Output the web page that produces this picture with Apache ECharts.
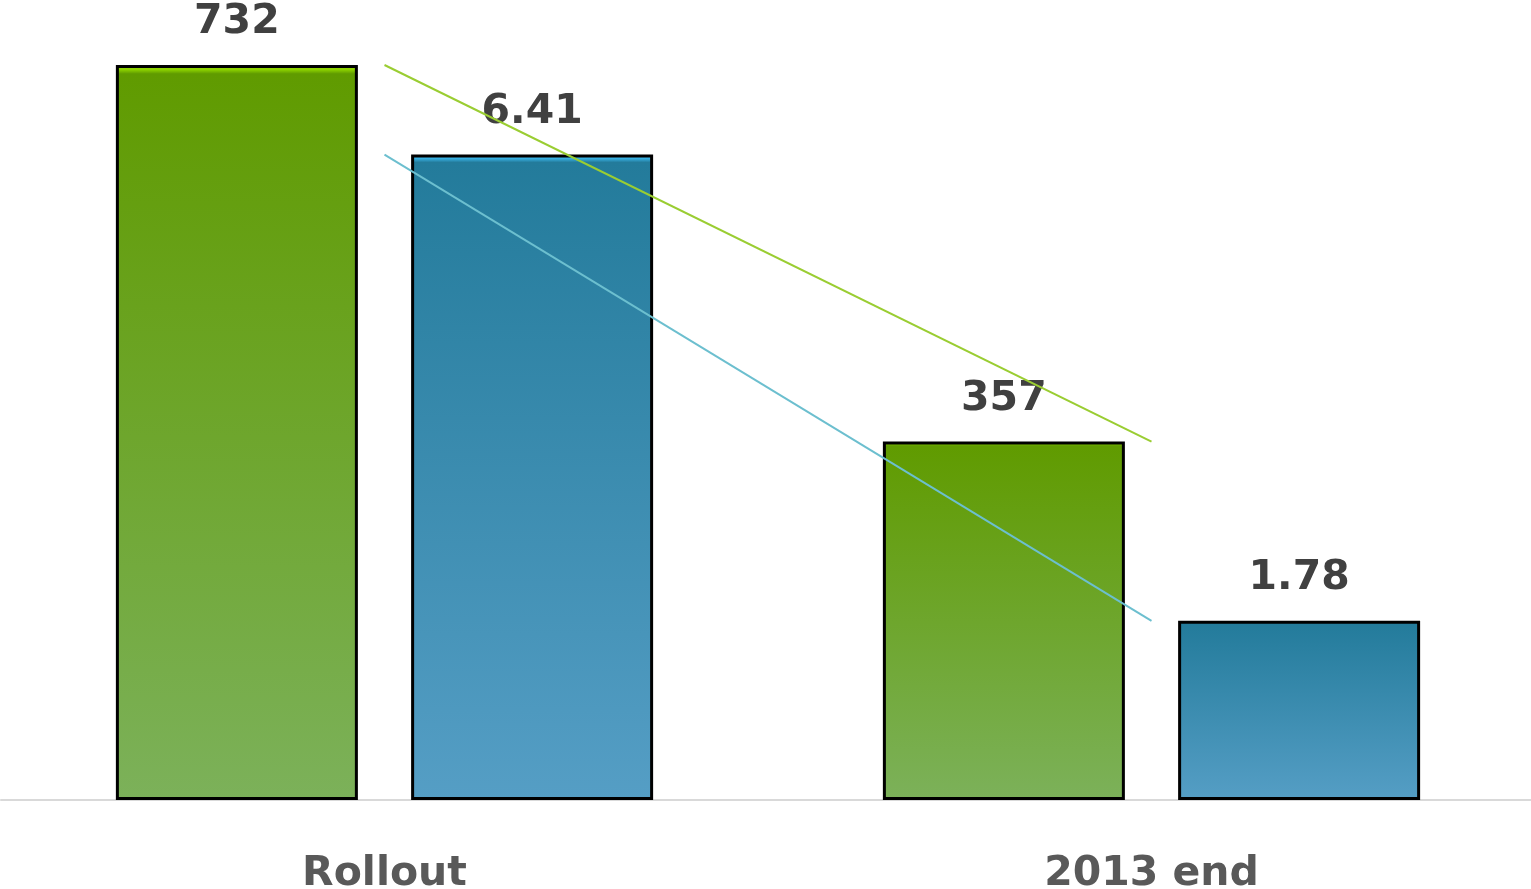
<!DOCTYPE html>
<html lang="en">
  <head>
    <meta charset="UTF-8" />
    <title>Rollout vs 2013 end</title>
    <script src="https://cdn.jsdelivr.net/npm/echarts@6/dist/echarts.min.js"></script>
    <style>
      html, body { margin: 0; padding: 0; background: #fff; }
      .echarts { width: 1531px; height: 889px; }
    </style>
  </head>
  <body>
    <div class="echarts"></div>
    <script>
      const categories = ['Rollout', '2013 end']
      const greenValues = [732, 357]
      const blueValues = [6.41, 1.78]

      const myCharts = echarts.init(document.querySelector('.echarts'))

      const grad = (hi, top, bottom) => new echarts.graphic.LinearGradient(0, 0, 0, 1, [
        { offset: 0, color: hi },
        { offset: 0.006, color: hi },
        { offset: 0.012, color: top },
        { offset: 1, color: bottom }
      ])

      const labelStyle = {
        show: true,
        position: 'top',
        distance: 22,
        fontFamily: 'DejaVu Sans',
        fontWeight: 'bold',
        fontSize: 41,
        color: '#404040'
      }

      const option = {
        animation: false,
        // keep the plot box fixed, labels may spill outside it
        grid: { left: 1, width: 1534, top: 65, bottom: 89, containLabel: false, outerBoundsMode: 'none' },
        xAxis: {
          type: 'category',
          data: categories,
          axisTick: { show: false },
          axisLine: { lineStyle: { color: '#d9d9d9', width: 2 } },
          axisLabel: {
            margin: 54,
            fontFamily: 'DejaVu Sans',
            fontWeight: 'bold',
            fontSize: 41,
            color: '#595959'
          }
        },
        yAxis: [
          { type: 'value', min: 0, max: 732, show: false, splitLine: { show: false } },
          { type: 'value', min: 0, max: 7.3, show: false, splitLine: { show: false } }
        ],
        series: [
          {
            type: 'bar',
            data: greenValues,
            yAxisIndex: 0,
            barWidth: 242,
            barGap: '22%',
            itemStyle: {
              color: grad('#8ed400', '#609b00', '#7cb15a'),
              borderColor: '#000',
              borderWidth: 3
            },
            label: labelStyle
          },
          {
            type: 'bar',
            data: blueValues,
            yAxisIndex: 1,
            barWidth: 242,
            itemStyle: {
              color: grad('#38b0e2', '#237b9b', '#559ec5'),
              borderColor: '#000',
              borderWidth: 3
            },
            label: labelStyle
          },
          {
            type: 'line',
            data: greenValues,
            yAxisIndex: 0,
            symbol: 'none',
            z: 5,
            lineStyle: { color: '#9acd32', width: 2 }
          },
          {
            type: 'line',
            data: blueValues,
            yAxisIndex: 1,
            symbol: 'none',
            z: 5,
            lineStyle: { color: '#6cbfcf', width: 2 }
          }
        ]
      }

      myCharts.setOption(option)
    </script>
  </body>
</html>
